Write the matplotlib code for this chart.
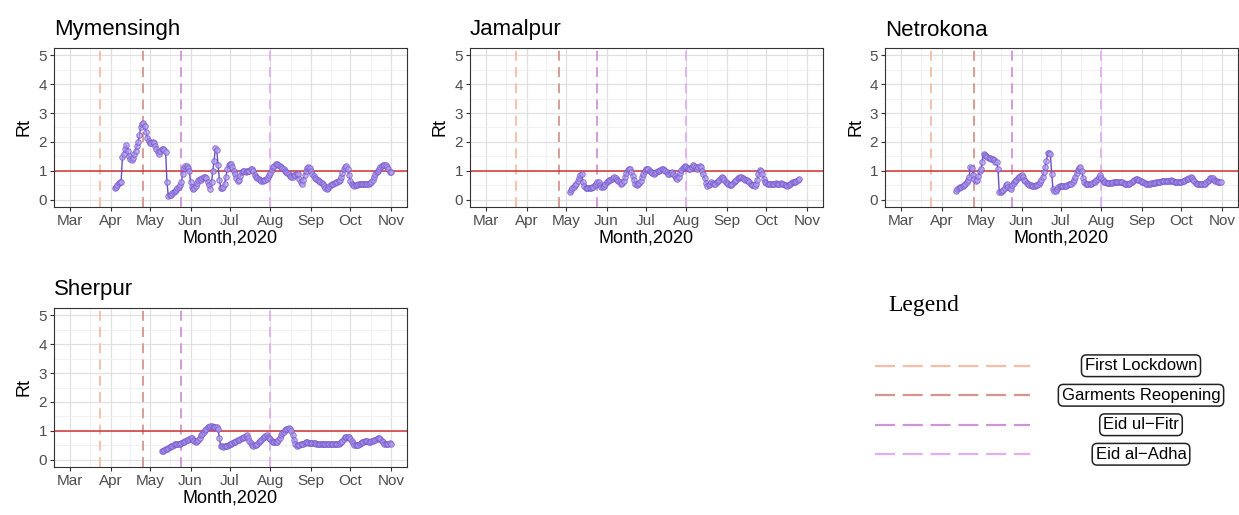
import numpy as np
import matplotlib
matplotlib.use("Agg")
import matplotlib.pyplot as plt
import matplotlib.dates as mdates
from matplotlib.ticker import FixedLocator, MultipleLocator

plt.rcParams['font.family'] = ['Liberation Sans', 'DejaVu Sans']

# daily Rt estimates
districts = ["Mymensingh", "Jamalpur", "Netrokona", "Sherpur"]
start_dates = ["2020-04-04", "2020-05-04", "2020-04-12", "2020-05-10"]

rt_mymensingh = [
    0.41, 0.45, 0.5, 0.58, 0.62, 0.63, 1.48, 1.6, 1.75, 1.9, 1.7, 1.5,
    1.42, 1.38, 1.45, 1.6, 1.7, 1.85, 2.0, 2.25, 2.5, 2.62, 2.65, 2.55,
    2.35, 2.15, 2.05, 1.98, 1.95, 2.0, 1.95, 1.85, 1.75, 1.65, 1.58, 1.7,
    1.77, 1.75, 1.72, 1.65, 0.6, 0.14, 0.15, 0.18, 0.22, 0.26, 0.3, 0.35,
    0.4, 0.45, 0.5, 0.6, 0.9, 1.1, 1.17, 1.18, 1.1, 1.0, 0.62, 0.45,
    0.38, 0.4, 0.48, 0.58, 0.7, 0.72, 0.68, 0.75, 0.8, 0.8, 0.75, 0.62,
    0.52, 0.38, 0.6, 1.0, 1.35, 1.8, 1.72, 1.2, 0.7, 0.42, 0.4, 0.45,
    0.55, 0.8, 1.05, 1.2, 1.25, 1.25, 1.15, 1.0, 0.9, 0.74, 0.66, 0.7,
    0.82, 0.95, 1.0, 0.98, 0.97, 1.0, 1.0, 1.0, 1.05, 1.07, 1.0, 0.85,
    0.8, 0.76, 0.72, 0.68, 0.66, 0.66, 0.67, 0.68, 0.72, 0.78, 0.85, 0.92,
    1.02, 1.12, 1.18, 1.23, 1.25, 1.22, 1.18, 1.15, 1.1, 1.06, 1.0, 0.96,
    0.94, 0.88, 0.82, 0.78, 0.8, 0.84, 0.86, 0.88, 0.88, 0.72, 0.6, 0.56,
    0.68, 0.85, 0.98, 1.1, 1.15, 1.1, 1.0, 0.9, 0.82, 0.76, 0.72, 0.68,
    0.64, 0.6, 0.58, 0.55, 0.48, 0.42, 0.38, 0.4, 0.46, 0.5, 0.53, 0.56,
    0.58, 0.6, 0.63, 0.66, 0.7, 0.8, 0.92, 1.05, 1.15, 1.18, 1.05, 0.85,
    0.65, 0.55, 0.5, 0.48, 0.5, 0.52, 0.53, 0.54, 0.55, 0.56, 0.56, 0.55,
    0.55, 0.54, 0.55, 0.58, 0.6, 0.68, 0.78, 0.88, 0.95, 1.0, 1.07, 1.12,
    1.18, 1.2, 1.22, 1.22, 1.15, 1.05, 0.97, 0.95]

rt_jamalpur = [
    0.26, 0.33, 0.4, 0.45, 0.5, 0.55, 0.65, 0.75, 0.85, 0.88, 0.6, 0.48,
    0.42, 0.4, 0.4, 0.42, 0.42, 0.43, 0.45, 0.5, 0.56, 0.62, 0.6, 0.5,
    0.45, 0.43, 0.48, 0.55, 0.6, 0.64, 0.67, 0.7, 0.73, 0.76, 0.78, 0.76,
    0.7, 0.65, 0.6, 0.55, 0.58, 0.66, 0.78, 0.92, 1.02, 1.07, 1.05, 0.95,
    0.82, 0.68, 0.56, 0.52, 0.54, 0.58, 0.66, 0.78, 0.9, 0.98, 1.05, 1.08,
    1.05, 1.0, 0.95, 0.92, 0.9, 0.92, 0.95, 0.98, 1.0, 1.02, 1.05, 1.06,
    1.04, 1.0, 0.95, 0.9, 0.88, 0.92, 0.95, 0.9, 0.82, 0.75, 0.72, 0.8,
    0.92, 1.02, 1.1, 1.15, 1.18, 1.15, 1.1, 1.05, 1.08, 1.15, 1.2, 1.18,
    1.12, 1.05, 1.12, 1.18, 1.12, 1.0, 0.88, 0.75, 0.58, 0.48, 0.5, 0.55,
    0.6, 0.58, 0.55, 0.56, 0.6, 0.65, 0.7, 0.75, 0.78, 0.74, 0.68, 0.62,
    0.57, 0.53, 0.5, 0.5, 0.55, 0.6, 0.65, 0.7, 0.74, 0.77, 0.8, 0.78,
    0.75, 0.72, 0.7, 0.68, 0.66, 0.62, 0.56, 0.52, 0.5, 0.49, 0.55, 0.7,
    0.9, 1.02, 1.0, 0.9, 0.72, 0.62, 0.58, 0.56, 0.55, 0.55, 0.54, 0.53,
    0.55, 0.58, 0.56, 0.54, 0.55, 0.58, 0.56, 0.53, 0.52, 0.5, 0.49, 0.5,
    0.53, 0.57, 0.6, 0.62, 0.63, 0.66, 0.7, 0.72]

rt_netrokona = [
    0.31, 0.36, 0.42, 0.44, 0.45, 0.48, 0.5, 0.53, 0.6, 0.7, 0.8, 1.15,
    1.1, 0.85, 0.72, 0.66, 0.7, 0.82, 0.98, 1.05, 1.32, 1.6, 1.55, 1.5,
    1.48, 1.45, 1.43, 1.42, 1.4, 1.38, 1.32, 1.3, 1.07, 0.26, 0.27, 0.3,
    0.35, 0.42, 0.52, 0.55, 0.45, 0.4, 0.37, 0.5, 0.58, 0.65, 0.7, 0.75,
    0.78, 0.82, 0.84, 0.78, 0.7, 0.64, 0.58, 0.55, 0.52, 0.5, 0.49, 0.48,
    0.48, 0.5, 0.52, 0.55, 0.6, 0.68, 0.78, 0.95, 1.13, 1.35, 1.62, 1.63,
    1.58, 0.9, 0.38, 0.32, 0.3, 0.38, 0.43, 0.46, 0.48, 0.49, 0.48, 0.47,
    0.49, 0.52, 0.55, 0.56, 0.56, 0.6, 0.68, 0.8, 0.92, 1.02, 1.1, 1.12,
    1.0, 0.75, 0.6, 0.56, 0.55, 0.54, 0.55, 0.56, 0.58, 0.6, 0.63, 0.67,
    0.72, 0.8, 0.84, 0.75, 0.68, 0.62, 0.6, 0.58, 0.57, 0.57, 0.58, 0.58,
    0.6, 0.63, 0.62, 0.6, 0.6, 0.62, 0.63, 0.6, 0.58, 0.56, 0.55, 0.55,
    0.56, 0.58, 0.62, 0.66, 0.7, 0.72, 0.72, 0.7, 0.68, 0.65, 0.62, 0.6,
    0.58, 0.56, 0.55, 0.55, 0.56, 0.57, 0.57, 0.58, 0.58, 0.6, 0.6, 0.62,
    0.63, 0.64, 0.65, 0.66, 0.65, 0.64, 0.64, 0.66, 0.67, 0.66, 0.64, 0.62,
    0.6, 0.6, 0.6, 0.61, 0.62, 0.64, 0.66, 0.69, 0.71, 0.73, 0.75, 0.78,
    0.75, 0.7, 0.64, 0.58, 0.55, 0.55, 0.56, 0.56, 0.56, 0.55, 0.56, 0.6,
    0.65, 0.7, 0.74, 0.76, 0.75, 0.7, 0.66, 0.64, 0.63, 0.63, 0.62]

rt_sherpur = [
    0.3, 0.32, 0.34, 0.36, 0.38, 0.41, 0.43, 0.46, 0.49, 0.52, 0.54, 0.55,
    0.56, 0.56, 0.55, 0.58, 0.6, 0.63, 0.66, 0.68, 0.7, 0.72, 0.74, 0.75,
    0.7, 0.64, 0.6, 0.64, 0.7, 0.76, 0.84, 0.9, 0.96, 1.03, 1.07, 1.12,
    1.15, 1.16, 1.16, 1.15, 1.15, 1.14, 1.12, 1.07, 0.75, 0.49, 0.46, 0.45,
    0.46, 0.48, 0.49, 0.51, 0.54, 0.56, 0.58, 0.6, 0.62, 0.65, 0.67, 0.69,
    0.72, 0.74, 0.77, 0.8, 0.82, 0.84, 0.76, 0.66, 0.58, 0.52, 0.49, 0.5,
    0.52, 0.55, 0.6, 0.65, 0.7, 0.75, 0.78, 0.82, 0.84, 0.8, 0.76, 0.72,
    0.65, 0.6, 0.6, 0.6, 0.61, 0.68, 0.76, 0.85, 0.93, 0.97, 1.02, 1.06,
    1.08, 1.1, 1.08, 0.98, 0.85, 0.68, 0.55, 0.49, 0.5, 0.52, 0.54, 0.55,
    0.56, 0.58, 0.6, 0.6, 0.59, 0.58, 0.57, 0.58, 0.59, 0.58, 0.56, 0.55,
    0.55, 0.56, 0.56, 0.55, 0.55, 0.54, 0.55, 0.55, 0.55, 0.54, 0.53, 0.53,
    0.54, 0.55, 0.55, 0.56, 0.57, 0.6, 0.65, 0.72, 0.78, 0.8, 0.8, 0.78,
    0.72, 0.65, 0.58, 0.52, 0.5, 0.5, 0.52, 0.55, 0.58, 0.6, 0.63, 0.65,
    0.66, 0.64, 0.62, 0.62, 0.64, 0.66, 0.68, 0.7, 0.72, 0.74, 0.75, 0.72,
    0.66, 0.6, 0.56, 0.55, 0.55, 0.56, 0.57, 0.56]

rt_series = [rt_mymensingh, rt_jamalpur, rt_netrokona, rt_sherpur]

event_names = ["First Lockdown", "Garments Reopening", "Eid ul\u2212Fitr", "Eid al\u2212Adha"]
event_dates = ["2020-03-24", "2020-04-26", "2020-05-25", "2020-08-01"]
event_colors = ["#f5bca6", "#d69590", "#cf93d8", "#e2aef0"]

month_labels = ["Mar", "Apr", "May", "Jun", "Jul", "Aug", "Sep", "Oct", "Nov"]
month_starts = np.arange("2020-03", "2020-12", dtype="datetime64[M]").astype("datetime64[D]")

W, H = 1239, 515
fig = plt.figure(figsize=(W / 100, H / 100), dpi=100)

# panel boxes in pixels (left, top)
boxes = [(54, 48), (470, 48), (885, 48), (54, 308)]
bw, bh = 353, 159

mnum = mdates.date2num(month_starts)
minor = (mnum[:-1] + mnum[1:]) / 2
span = mnum[-1] - mnum[0]

for name, start, vals, (bx, by) in zip(districts, start_dates, rt_series, boxes):
    ax = fig.add_axes([bx / W, 1 - (by + bh) / H, bw / W, bh / H])
    dates = np.datetime64(start) + np.arange(len(vals))
    for d, c in zip(event_dates, event_colors):
        ax.axvline(np.datetime64(d), color=c, lw=1.3, dashes=(5.5, 3.5), zorder=1)
    ax.axhline(1, color="#d23434", lw=1.1, zorder=2)
    ax.plot(dates, vals, color="#6650c4", lw=1.0, zorder=3)
    ax.plot(dates, vals, ls="none", marker="o", ms=4.0, mfc="#b49cec", mec="#7257cc",
            mew=0.7, alpha=0.75, zorder=4)
    ax.set_xlim(mnum[0] - span * 0.05, mnum[-1] + span * 0.05)
    ax.set_ylim(-0.25, 5.25)
    ax.xaxis.set_major_locator(FixedLocator(mnum))
    ax.xaxis.set_minor_locator(FixedLocator(minor))
    ax.set_xticklabels(month_labels)
    ax.yaxis.set_major_locator(MultipleLocator(1))
    ax.yaxis.set_minor_locator(MultipleLocator(0.5))
    ax.grid(which="major", color="#e0e0e0", lw=0.9)
    ax.grid(which="minor", color="#efefef", lw=0.6)
    ax.set_axisbelow(True)
    ax.tick_params(which="major", length=3, width=0.8, color="#333333",
                   labelcolor="#4d4d4d", labelsize=11, pad=2)
    ax.tick_params(which="minor", length=0)
    for s in ax.spines.values():
        s.set_color("#333333")
        s.set_linewidth(0.8)
    ax.set_title(name, loc="left", fontsize=16, pad=9)
    ax.set_xlabel("Month,2020", fontsize=13, labelpad=1)
    ax.set_ylabel("Rt", fontsize=13, labelpad=4)

# legend block
fig.text(888 / W, 1 - 311 / H, "Legend", family=["Liberation Serif", "DejaVu Serif"],
         fontsize=17, ha="left", va="baseline")
lax = fig.add_axes([875 / W, 1 - 469 / H, 364 / W, 118 / H])
lax.set_xlim(0, 364)
lax.set_ylim(3.5, -0.5)
lax.axis("off")
for i, (lab, c) in enumerate(zip(event_names, event_colors)):
    lax.plot([0, 155], [i, i], color=c, lw=1.6, dashes=(9, 3.5))
    lax.text(266, i, lab, ha="center", va="center", fontsize=12,
             bbox=dict(boxstyle="round,pad=0.2,rounding_size=0.3", fc="white",
                       ec="#222222", lw=1.1))

fig.savefig("out.png", dpi=100)
